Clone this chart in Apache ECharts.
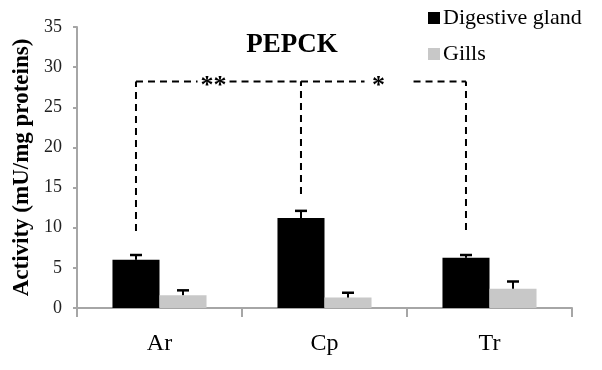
<!DOCTYPE html>
<html>
<head>
<meta charset="utf-8">
<script src="https://cdn.jsdelivr.net/npm/echarts@6/dist/echarts.min.js"></script>
<style>
  html, body { margin: 0; padding: 0; background: #fff; }
  #chart { width: 602px; height: 370px; }
</style>
</head>
<body>
<div id="chart"></div>
<script>
// PEPCK activity per species, digestive gland vs gills (mean + SE)
const categories = ['Ar', 'Cp', 'Tr'];
const seriesNames = ['Digestive gland', 'Gills'];
const digestiveGland = [6.0, 11.2, 6.25];
const digestiveGlandErr = [0.6, 0.9, 0.35];
const gills = [1.6, 1.3, 2.4];
const gillsErr = [0.6, 0.6, 0.9];
const yTicks = { min: 0, max: 35, step: 5 };

// significance brackets between digestive-gland bars
const bracketLevel = 28.2;
const bracketDrop = [9.6, 14.2, 9.7];   // lower end of each vertical dashed leg
const bracketPairs = [[0, 1], [1, 2]];
const bracketMarks = ['**', '*'];

const FONT = '"Liberation Serif", "Times New Roman", serif';
const AXIS_GREY = '#a6a6a6';
const BAR_FRACTION = 0.285;             // bar width as share of a category band
const STAR_GAPS = [[16, 16], [14, 35]]; // blank span left/right of each mark

const chart = echarts.init(document.getElementById('chart'), null, { renderer: 'canvas' });

function barCenterX(api, cat, which) {
  const band = api.size([1, 0])[0];
  const w = band * BAR_FRACTION;
  const c = api.coord([cat, 0])[0];
  return c + (which === 0 ? -w / 2 : w / 2);
}

function errorItem(params, api) {
  const cat = api.value(0);
  const val = api.value(1);
  const err = api.value(2);
  const which = api.value(3);
  const x = barCenterX(api, cat, which);
  const yTop = api.coord([cat, val + err])[1];
  const yBase = api.coord([cat, val])[1];
  const cap = 12;
  return {
    type: 'group',
    children: [
      { type: 'line', shape: { x1: x, y1: yBase, x2: x, y2: yTop },
        style: { stroke: '#000', lineWidth: 2 } },
      { type: 'line', shape: { x1: x - cap / 2, y1: yTop, x2: x + cap / 2, y2: yTop },
        style: { stroke: '#000', lineWidth: 2.5 } }
    ]
  };
}

const errData = [];
categories.forEach((c, i) => {
  errData.push([i, digestiveGland[i], digestiveGlandErr[i], 0]);
  errData.push([i, gills[i], gillsErr[i], 1]);
});

function bracketItem(params, api) {
  const idx = params.dataIndex;
  const a = api.value(0);
  const b = api.value(1);
  const level = api.value(2);
  const dropA = api.value(3);
  const dropB = api.value(4);
  const xa = barCenterX(api, a, 0);
  const xb = barCenterX(api, b, 0);
  const y = api.coord([a, level])[1];
  const ya = api.coord([a, dropA])[1];
  const yb = api.coord([b, dropB])[1];
  const xm = xa + (xb - xa) * 0.47;
  const gap = STAR_GAPS[idx];
  const dash = { stroke: '#000', lineWidth: 2, lineDash: [7, 5] };
  return {
    type: 'group',
    children: [
      { type: 'line', shape: { x1: xa, y1: ya, x2: xa, y2: y }, style: dash },
      { type: 'line', shape: { x1: xb, y1: yb, x2: xb, y2: y }, style: dash },
      { type: 'line', shape: { x1: xa, y1: y, x2: xm - gap[0], y2: y }, style: dash },
      { type: 'line', shape: { x1: xm + gap[1], y1: y, x2: xb, y2: y }, style: dash },
      { type: 'text', x: xm, y: y + 5,
        style: { text: bracketMarks[idx], fill: '#000', font: 'bold 26px ' + FONT,
                 align: 'center', verticalAlign: 'middle' } }
    ]
  };
}

const bracketData = bracketPairs.map(p => [p[0], p[1], bracketLevel, bracketDrop[p[0]], bracketDrop[p[1]]]);

chart.setOption({
  animation: false,
  backgroundColor: '#fff',
  title: {
    text: 'PEPCK',
    left: 287,
    top: 27,
    textAlign: 'center',
    textStyle: { fontFamily: FONT, fontWeight: 'bold', fontSize: 27, color: '#000' }
  },
  legend: {
    orient: 'vertical',
    left: 428,
    top: 7,
    padding: 0,
    itemGap: 14,
    itemWidth: 12,
    itemHeight: 12,
    icon: 'rect',
    data: seriesNames,
    textStyle: { fontFamily: FONT, fontSize: 22, color: '#000', padding: [0, 0, 0, -2] }
  },
  grid: { left: 77, right: 30, top: 27, bottom: 62, containLabel: false },
  xAxis: {
    type: 'category',
    data: categories,
    axisLine: { lineStyle: { color: AXIS_GREY, width: 2 } },
    axisTick: { show: true, alignWithLabel: false, length: 9, lineStyle: { color: AXIS_GREY, width: 2 } },
    axisLabel: { fontFamily: FONT, fontSize: 24, color: '#000', margin: 24 }
  },
  yAxis: {
    type: 'value',
    min: yTicks.min,
    max: yTicks.max,
    interval: yTicks.step,
    name: 'Activity (mU/mg proteins)',
    nameLocation: 'middle',
    nameGap: 40,
    nameTextStyle: { fontFamily: FONT, fontWeight: 'bold', fontSize: 23, color: '#000' },
    axisLine: { show: true, lineStyle: { color: AXIS_GREY, width: 2 } },
    axisTick: { show: true, length: 4, lineStyle: { color: AXIS_GREY, width: 2 } },
    splitLine: { show: false },
    axisLabel: { fontFamily: FONT, fontSize: 18, color: '#222', margin: 15 }
  },
  series: [
    { name: seriesNames[0], type: 'bar', data: digestiveGland, barWidth: (BAR_FRACTION * 100) + '%',
      barGap: '0%', itemStyle: { color: '#000' } },
    { name: seriesNames[1], type: 'bar', data: gills, barWidth: (BAR_FRACTION * 100) + '%',
      barGap: '0%', itemStyle: { color: '#c8c8c8' } },
    { type: 'custom', renderItem: errorItem, data: errData, z: 5, silent: true },
    { type: 'custom', renderItem: bracketItem, data: bracketData, z: 6, silent: true }
  ]
});
</script>
</body>
</html>
